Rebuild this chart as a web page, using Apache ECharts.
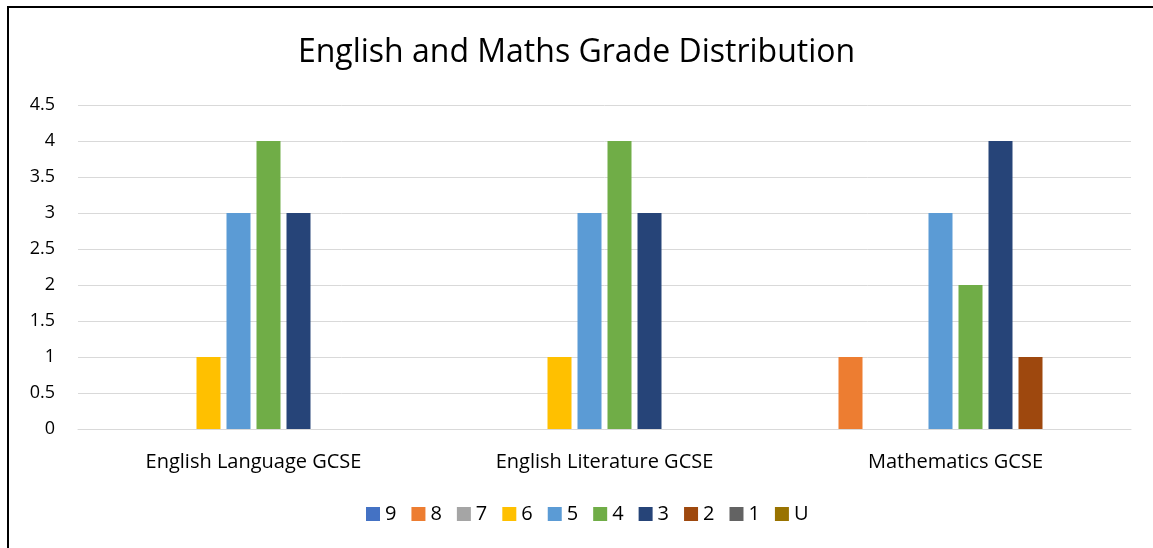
<!DOCTYPE html>
<html>
<head>
<meta charset="utf-8">
<script src="https://cdn.jsdelivr.net/npm/echarts@6/dist/echarts.min.js"></script>
<style>
  html, body { margin: 0; padding: 0; background: #fff; }
  #chart { width: 1153px; height: 548px; }
</style>
</head>
<body>
<div id="chart"></div>
<script>
// subjects along the x axis
var subjects = ['English Language GCSE', 'English Literature GCSE', 'Mathematics GCSE'];
// grade series, in legend order
var grades = ['9', '8', '7', '6', '5', '4', '3', '2', '1', 'U'];
var gradeColors = ['#4472C4', '#ED7D31', '#A5A5A5', '#FFC000', '#5B9BD5', '#70AD47', '#264478', '#9E480E', '#636363', '#997300'];
// counts per grade, one value per subject
var grade9 = [0, 0, 0];
var grade8 = [0, 0, 1];
var grade7 = [0, 0, 0];
var grade6 = [1, 1, 0];
var grade5 = [3, 3, 3];
var grade4 = [4, 4, 2];
var grade3 = [3, 3, 4];
var grade2 = [0, 0, 1];
var grade1 = [0, 0, 0];
var gradeU = [0, 0, 0];
var counts = [grade9, grade8, grade7, grade6, grade5, grade4, grade3, grade2, grade1, gradeU];

var font = 'Open Sans';
var chart = echarts.init(document.getElementById('chart'), null, { renderer: 'canvas' });

var series = grades.map(function (g, i) {
  return {
    name: g,
    type: 'bar',
    data: counts[i],
    barWidth: 24,
    barGap: '25%',
    itemStyle: { color: gradeColors[i] }
  };
});

chart.setOption({
  backgroundColor: '#fff',
  animation: false,
  title: {
    text: 'English and Maths Grade Distribution',
    left: 'center',
    top: 32,
    textStyle: { fontFamily: font, fontSize: 32, fontWeight: 'normal', color: '#000' }
  },
  legend: {
    data: grades,
    top: 499,
    left: 361,
    itemWidth: 14,
    itemHeight: 14,
    itemGap: 15,
    icon: 'rect',
    textStyle: { fontFamily: font, fontSize: 20, color: '#000' }
  },
  grid: { left: 78, right: 22, top: 105, bottom: 119, containLabel: false },
  xAxis: {
    type: 'category',
    data: subjects,
    axisLine: { lineStyle: { color: '#d9d9d9', width: 1 } },
    axisTick: { show: false },
    axisLabel: { fontFamily: font, fontSize: 20, color: '#000', margin: 23 }
  },
  yAxis: {
    type: 'value',
    min: 0,
    max: 4.5,
    interval: 0.5,
    axisLine: { show: false },
    axisTick: { show: false },
    splitLine: { lineStyle: { color: '#d9d9d9', width: 1 } },
    axisLabel: { fontFamily: font, fontSize: 18, color: '#000', margin: 23 }
  },
  graphic: [{
    type: 'rect',
    shape: { x: 8, y: 7, width: 1200, height: 600 },
    style: { fill: 'none', stroke: '#000', lineWidth: 2 },
    silent: true
  }],
  series: series
});
</script>
</body>
</html>
